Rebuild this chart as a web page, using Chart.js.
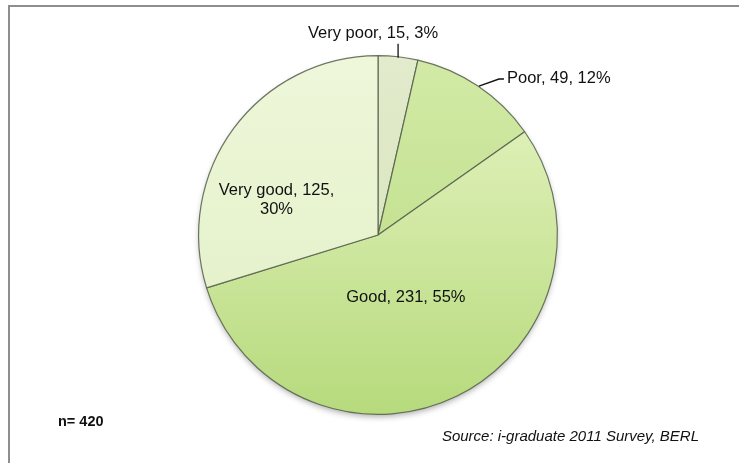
<!DOCTYPE html>
<html>
<head>
<meta charset="utf-8">
<script src="https://cdn.jsdelivr.net/npm/chart.js@4/dist/chart.umd.min.js"></script>
<style>
  html, body { margin: 0; padding: 0; background: #fff; }
  #wrap { position: relative; width: 739px; height: 463px; overflow: hidden; }
  #frame { position: absolute; left: 8px; top: 5px; width: 800px; height: 600px;
           border-top: 2px solid #8e8e8e; border-left: 2px solid #8e8e8e; }
  #c { position: absolute; left: 0; top: 0; }
</style>
</head>
<body>
<div id="wrap">
  <div id="frame"></div>
  <canvas id="c" width="739" height="463"></canvas>
</div>
<script>
// data
const categories = ['Very poor', 'Poor', 'Good', 'Very good'];
const counts = [15, 49, 231, 125];
const percents = [3, 12, 55, 30];
const sampleNote = 'n= 420';
const sourceNote = 'Source: i-graduate 2011 Survey, BERL';

// fills: [light end, dark end] of a vertical gradient
const sliceColors = [
    ['#e2ebcc', '#d3e1b6'],
    ['#d2eaa6', '#b8db80'],
    ['#e8f5c6', '#b6da7c'],
    ['#eef7da', '#e1efc4']
];

// how each label sits relative to its slice
const labelStyle = [
    { kind: 'up' },
    { kind: 'elbow' },
    { kind: 'inside', turn: 2, frac: 0.38, wrap: false },
    { kind: 'inside', turn: -17, frac: 0.60, wrap: true }
];

const FONT = '"Liberation Sans", Arial, sans-serif';

function fillFor(ctx) {
    let area = ctx.chart.chartArea;
    let pair = sliceColors[ctx.dataIndex];
    if (!area) return pair[0];
    let g = ctx.chart.ctx.createLinearGradient(0, area.top, 0, area.bottom);
    g.addColorStop(0, pair[0]);
    g.addColorStop(1, pair[1]);
    return g;
}

// soft shadow under the whole pie
let pieShadow = {
    id: 'pieShadow',
    beforeDatasetsDraw(chart) {
        let arc = chart.getDatasetMeta(0).data[0];
        if (!arc) return;
        let p = arc.getProps(['x', 'y', 'outerRadius'], true);
        let ctx = chart.ctx;
        ctx.save();
        ctx.shadowColor = 'rgba(0,0,0,0.35)';
        ctx.shadowBlur = 6;
        ctx.shadowOffsetY = 3;
        ctx.fillStyle = '#c8d8b0';
        ctx.beginPath();
        ctx.arc(p.x, p.y, p.outerRadius - 1, 0, Math.PI * 2);
        ctx.fill();
        ctx.restore();
    }
};

let sliceLabels = {
    id: 'sliceLabels',
    afterDatasetsDraw(chart) {
        let ctx = chart.ctx;
        ctx.save();
        ctx.fillStyle = '#111';
        ctx.strokeStyle = '#111';
        ctx.lineWidth = 1.3;
        ctx.font = '16.5px ' + FONT;
        chart.getDatasetMeta(0).data.forEach((arc, i) => {
            let p = arc.getProps(['x', 'y', 'startAngle', 'endAngle', 'outerRadius'], true);
            let mid = (p.startAngle + p.endAngle) / 2;
            let st = labelStyle[i];
            let txt = categories[i] + ', ' + counts[i] + ', ' + percents[i] + '%';
            if (st.kind === 'up') {
                let ax = p.x + Math.cos(mid) * p.outerRadius;
                let ay = p.y + Math.sin(mid) * p.outerRadius;
                ctx.beginPath();
                ctx.moveTo(ax, ay + 1);
                ctx.lineTo(ax, ay - 13);
                ctx.stroke();
                ctx.textAlign = 'center';
                ctx.textBaseline = 'middle';
                ctx.fillText(txt, ax - 25, ay - 23);
            } else if (st.kind === 'elbow') {
                let ax = p.x + Math.cos(mid) * p.outerRadius;
                let ay = p.y + Math.sin(mid) * p.outerRadius;
                ctx.beginPath();
                ctx.moveTo(ax + 1, ay);
                ctx.lineTo(ax + 21, ay - 7);
                ctx.lineTo(ax + 26, ay - 7);
                ctx.stroke();
                ctx.textAlign = 'left';
                ctx.textBaseline = 'middle';
                ctx.fillText(txt, ax + 29, ay - 8);
            } else {
                let a = mid + st.turn * Math.PI / 180;
                let cx = p.x + Math.cos(a) * p.outerRadius * st.frac;
                let cy = p.y + Math.sin(a) * p.outerRadius * st.frac;
                ctx.textAlign = 'center';
                ctx.textBaseline = 'middle';
                if (st.wrap) {
                    ctx.fillText(categories[i] + ', ' + counts[i] + ',', cx, cy - 9);
                    ctx.fillText(percents[i] + '%', cx, cy + 10);
                } else {
                    ctx.fillText(txt, cx, cy);
                }
            }
        });

        // notes at the bottom
        ctx.textBaseline = 'middle';
        ctx.textAlign = 'left';
        ctx.font = 'bold 14.5px ' + FONT;
        ctx.fillText(sampleNote, 58, 422);
        ctx.font = 'italic 15px ' + FONT;
        ctx.textAlign = 'right';
        ctx.fillText(sourceNote, 699, 437);
        ctx.restore();
    }
};

let chart = new Chart(document.getElementById('c'), {
    type: 'pie',
    data: {
        labels: categories,
        datasets: [{
            data: counts,
            backgroundColor: fillFor,
            borderColor: 'rgba(85,95,75,0.85)',
            borderWidth: 1.2
        }]
    },
    options: {
        responsive: false,
        animation: false,
        layout: { padding: { left: 17, right: 0, top: 55, bottom: 48 } },
        plugins: {
            legend: { display: false },
            tooltip: { enabled: false }
        }
    },
    plugins: [pieShadow, sliceLabels]
});
</script>
</body>
</html>
